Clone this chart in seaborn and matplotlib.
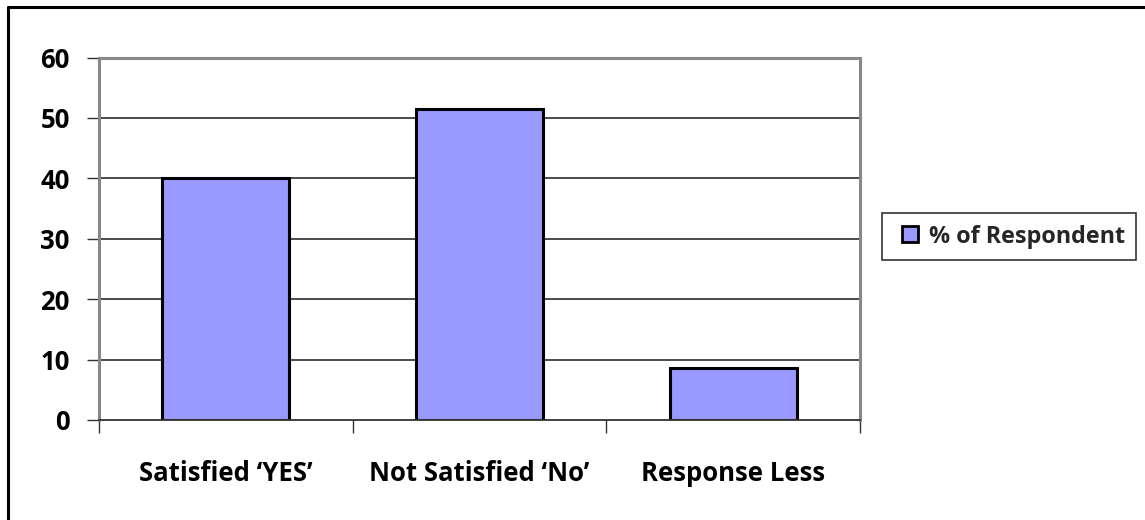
import matplotlib
matplotlib.use("Agg")
import matplotlib.pyplot as plt
import seaborn as sns
import pandas as pd
from matplotlib.lines import Line2D

categories = ["Satisfied \u2018YES\u2019", "Not Satisfied \u2018No\u2019", "Response Less"]
values = [40, 51.4, 8.6]
series_name = "% of Respondent"
y_ticks = [0, 10, 20, 30, 40, 50, 60]

df = pd.DataFrame({"cat": categories, "val": values})

sns.set_theme(style="white")
plt.rcParams["font.family"] = ["Open Sans", "DejaVu Sans"]
plt.rcParams["font.weight"] = "bold"

W, H = 1145, 520
fig = plt.figure(figsize=(W / 100, H / 100), dpi=100)
ax = fig.add_axes([99 / W, 1 - 420 / H, (860 - 99) / W, (420 - 57.5) / H])

bar_color = "#9999FF"
sns.barplot(data=df, x="cat", y="val", ax=ax, color=bar_color, width=0.5,
            edgecolor="black", linewidth=2.2, saturation=1, zorder=3)

ax.set_xlim(-0.5, 2.5)
ax.set_ylim(0, 60)
ax.set_yticks(y_ticks)
ax.set_xlabel("")
ax.set_ylabel("")

for y in y_ticks[1:-1]:
    ax.axhline(y, color="#1a1a1a", lw=1.1, zorder=1)

for side in ["left", "top", "right"]:
    ax.spines[side].set_color("#888888")
    ax.spines[side].set_linewidth(2.2)
    ax.spines[side].set_visible(True)
ax.spines["bottom"].set_color("#333333")
ax.spines["bottom"].set_linewidth(1.3)
ax.spines["bottom"].set_zorder(4)

ax.set_xticks([0, 1, 2])
ax.set_xticks([-0.5, 0.5, 1.5, 2.5], minor=True)
ax.tick_params(axis="x", which="major", length=0, pad=29, labelsize=18.5)
ax.tick_params(axis="x", which="minor", length=9, width=1, color="#333333", direction="out", bottom=True)
ax.tick_params(axis="y", which="major", length=9, width=1, color="#333333", direction="out",
               left=True, pad=12, labelsize=18.5)
for lab in ax.get_xticklabels() + ax.get_yticklabels():
    lab.set_fontweight("bold")
    lab.set_color("black")

handle = Line2D([], [], linestyle="none", marker="s", markersize=11,
                markerfacecolor=bar_color, markeredgecolor="black", markeredgewidth=2)
leg = fig.legend([handle], [series_name], loc="upper left",
                 bbox_to_anchor=(882 / W, 1 - 213 / H), borderaxespad=0, frameon=True, fancybox=False,
                 handlelength=1.4, handletextpad=0.1,
                 borderpad=0.5, prop={"weight": "bold", "size": 16.8})
leg.get_frame().set_edgecolor("black")
leg.get_frame().set_linewidth(1.2)

# outer chart border (top and left only visible in reference)
fig.add_artist(Line2D([8 / W, 1.0], [1 - 7 / H, 1 - 7 / H], transform=fig.transFigure,
                      color="black", lw=2.2))
fig.add_artist(Line2D([8 / W, 8 / W], [0, 1 - 7 / H], transform=fig.transFigure,
                      color="black", lw=2.2))

fig.savefig("out.png", dpi=100, facecolor="white")
